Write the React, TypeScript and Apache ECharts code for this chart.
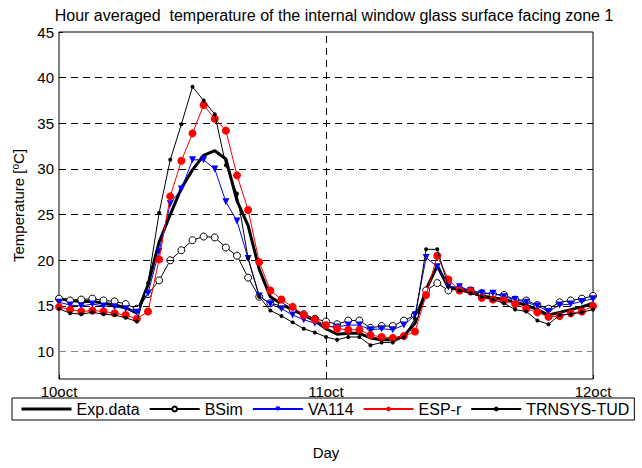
import React, { useEffect, useRef } from "react";
import * as echarts from "echarts";

const hours = [0, 1, 2, 3, 4, 5, 6, 7, 8, 9, 10, 11, 12, 13, 14, 15, 16, 17, 18, 19, 20, 21, 22, 23, 24, 25, 26, 27, 28, 29, 30, 31, 32, 33, 34, 35, 36, 37, 38, 39, 40, 41, 42, 43, 44, 45, 46, 47, 48];

const expData = [15.8, 15.6, 15.5, 15.5, 15.3, 15.1, 14.8, 14.2, 17.3, 22.0, 25.0, 27.9, 29.9, 31.5, 32.0, 31.1, 26.5, 23.8, 19.0, 16.0, 15.2, 14.6, 14.0, 13.4, 12.5, 11.9, 12.0, 12.0, 11.5, 11.3, 11.3, 11.7, 13.1, 16.8, 19.4, 17.0, 16.8, 16.5, 16.1, 15.9, 15.7, 15.4, 15.1, 14.6, 14.0, 14.3, 14.6, 14.9, 15.3];
const bsim = [15.8, 15.6, 15.7, 15.8, 15.6, 15.5, 15.2, 14.7, 16.3, 17.8, 20.0, 21.1, 22.2, 22.6, 22.5, 21.4, 20.5, 18.1, 16.0, 15.3, 15.0, 14.6, 14.1, 13.6, 13.3, 13.0, 13.4, 13.4, 12.6, 12.8, 12.8, 13.4, 14.0, 16.7, 17.5, 16.7, 16.9, 16.7, 16.4, 16.3, 16.2, 15.7, 15.6, 15.1, 14.7, 15.4, 15.6, 15.8, 16.1];
const va114 = [15.4, 15.1, 15.0, 15.2, 15.0, 14.9, 14.7, 14.3, 16.4, 21.0, 26.2, 27.8, 31.0, 31.0, 30.0, 26.4, 24.3, 20.2, 16.1, 15.2, 14.7, 14.0, 13.5, 13.1, 12.8, 12.7, 12.9, 12.9, 12.4, 12.5, 12.4, 12.9, 14.0, 20.3, 19.3, 17.1, 17.1, 16.7, 16.4, 16.4, 16.0, 15.7, 15.4, 15.0, 14.4, 15.1, 15.2, 15.5, 15.8];
const espr = [14.9, 14.6, 14.4, 14.5, 14.4, 14.2, 14.0, 13.6, 14.4, 20.1, 27.0, 30.9, 33.9, 37.0, 35.5, 34.2, 29.3, 25.5, 19.8, 16.7, 15.7, 14.9, 14.0, 13.5, 12.9, 12.5, 12.4, 12.4, 11.8, 11.6, 11.5, 11.7, 12.2, 16.2, 20.5, 17.9, 16.7, 16.6, 15.9, 15.7, 15.6, 15.2, 14.7, 14.3, 13.8, 13.9, 14.2, 14.4, 15.0];
const trnsys = [14.7, 14.2, 14.1, 14.3, 14.1, 14.0, 13.7, 13.3, 17.5, 25.2, 31.0, 34.9, 39.0, 37.5, 36.0, 30.4, 27.3, 20.2, 16.0, 14.5, 13.9, 13.2, 12.5, 12.1, 11.6, 11.3, 11.6, 11.6, 10.7, 11.0, 11.0, 11.6, 13.6, 21.2, 21.2, 17.1, 16.7, 16.4, 16.0, 15.7, 15.3, 14.6, 14.4, 13.4, 13.0, 14.0, 14.1, 14.3, 14.6];

const yTickValues = [10, 15, 20, 25, 30, 35, 40, 45];
const yGridValues = [10, 15, 20, 25, 30, 35, 40];
const xTickValues = [0, 24, 48];
const xTickLabels = ["10oct", "11oct", "12oct"];
const dayLine = 24;

const FONT = "Liberation Sans, Arial, sans-serif";

export default function App() {
  const ref = useRef<HTMLDivElement>(null);
  useEffect(() => {
    const chart = echarts.init(ref.current!, null, { renderer: "svg" });
    const pair = (vals: number[]) => hours.map((h, i) => [h, vals[i]]);
    const base = {
      type: "line",
      showAllSymbol: true,
      silent: true,
    };
    chart.setOption({
      animation: false,
      textStyle: { fontFamily: FONT, color: "#000" },
      title: {
        text: "Hour averaged  temperature of the internal window glass surface facing zone 1",
        left: 329,
        textAlign: "center",
        top: 2,
        textStyle: { fontSize: 16, fontWeight: "normal", color: "#000", fontFamily: FONT },
      },
      grid: {
        left: 59,
        right: 49,
        top: 32,
        bottom: 89,
        show: true,
        borderColor: "#000",
        borderWidth: 1,
        backgroundColor: "#fff",
      },
      legend: {
        left: 12,
        top: 398,
        width: 640,
        orient: "horizontal",
        itemWidth: 50,
        itemHeight: 6,
        itemGap: 9,
        padding: [3, 5, 3, 8],
        borderColor: "#000",
        borderWidth: 1,
        borderRadius: 0,
        textStyle: { fontSize: 16, color: "#000", fontFamily: FONT },
        data: [
          {
            name: "Exp.data",
            itemStyle: { color: "rgba(0,0,0,0)", borderWidth: 0, opacity: 0 },
            lineStyle: { color: "#000", width: 3 },
          },
          "BSim",
          "VA114",
          "ESP-r",
          "TRNSYS-TUD",
        ],
      },
      xAxis: {
        type: "value",
        min: 0,
        max: 48,
        interval: 24,
        name: "Day",
        nameLocation: "middle",
        nameGap: 66,
        nameTextStyle: { fontSize: 15, color: "#000", fontFamily: FONT },
        axisLine: { show: false },
        axisTick: { show: true, inside: true, length: 4, lineStyle: { color: "#000" } },
        splitLine: { show: false },
        axisLabel: {
          fontSize: 15,
          color: "#000",
          margin: 5,
          fontFamily: FONT,
          formatter: (v: number) => {
            const i = xTickValues.indexOf(v);
            return i >= 0 ? xTickLabels[i] : "";
          },
        },
      },
      yAxis: {
        type: "value",
        min: 7,
        max: 45,
        name: "Temperature [{sup|o}C]",
        nameLocation: "middle",
        nameGap: 29,
        nameRotate: 90,
        nameTextStyle: {
          fontSize: 15,
          color: "#000",
          fontFamily: FONT,
          rich: {
            sup: { fontSize: 10, verticalAlign: "top", padding: [0, 0, 6, 0], fontFamily: FONT, color: "#000" },
          },
        },
        axisLine: { show: false },
        axisTick: { show: true, inside: true, length: 4, customValues: yTickValues, lineStyle: { color: "#000" } },
        splitLine: { show: false },
        axisLabel: { fontSize: 15, color: "#000", margin: 5, customValues: yTickValues, fontFamily: FONT },
      },
      series: [
        {
          ...base,
          name: "Exp.data",
          data: pair(expData),
          symbol: "none",
          lineStyle: { color: "#000", width: 3 },
          itemStyle: { color: "#000" },
          markLine: {
            silent: true,
            symbol: ["none", "none"],
            label: { show: false },
            lineStyle: { type: [7, 5], color: "#000", width: 1 },
            data: [
              ...yGridValues.map((v) => ({
                yAxis: v,
                lineStyle: { type: [7, 5], color: v === 10 ? "#888" : "#000", width: 1 },
              })),
              { xAxis: dayLine, lineStyle: { type: [7, 5], color: "#000", width: 1 } },
            ],
          },
          z: 2,
        },
        {
          ...base,
          name: "BSim",
          data: pair(bsim),
          symbol: "circle",
          symbolSize: 7,
          lineStyle: { color: "#000", width: 1 },
          itemStyle: { color: "#fff", borderColor: "#000", borderWidth: 1 },
          z: 3,
        },
        {
          ...base,
          name: "VA114",
          data: pair(va114),
          symbol: "triangle",
          symbolRotate: 180,
          symbolSize: 7,
          lineStyle: { color: "#0000ff", width: 1 },
          itemStyle: { color: "#0000ff" },
          z: 4,
        },
        {
          ...base,
          name: "ESP-r",
          data: pair(espr),
          symbol: "circle",
          symbolSize: 8,
          lineStyle: { color: "#ff0000", width: 1 },
          itemStyle: { color: "#ff0000" },
          z: 5,
        },
        {
          ...base,
          name: "TRNSYS-TUD",
          data: pair(trnsys),
          symbol: "circle",
          symbolSize: 4,
          lineStyle: { color: "#000", width: 1 },
          itemStyle: { color: "#000" },
          z: 6,
        },
      ],
    });
    return () => chart.dispose();
  }, []);
  return (
    <div
      ref={ref}
      style={{ position: "fixed", left: 0, top: 0, width: 642, height: 468, background: "#fff" }}
    />
  );
}
